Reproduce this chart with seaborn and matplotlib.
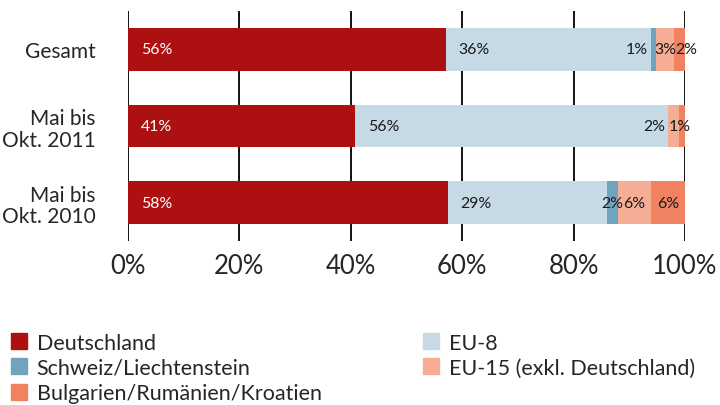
import numpy as np
import pandas as pd
import matplotlib
matplotlib.use('Agg')
import matplotlib.pyplot as plt
from matplotlib.lines import Line2D
import seaborn as sns

# data, shares in percent
categories = ['Gesamt', 'Mai bis\nOkt. 2011', 'Mai bis\nOkt. 2010']
series = ['Deutschland', 'EU-8', 'Schweiz/Liechtenstein', 'EU-15 (exkl. Deutschland)',
          'Bulgarien/Rumänien/Kroatien']
deutschland = [57.1, 40.8, 57.4]
eu8 = [36.8, 56.2, 28.6]
schweiz = [0.9, 0.0, 2.0]
eu15 = [3.2, 2.0, 5.9]
bulgarien = [2.0, 1.0, 6.1]
# printed labels as in the original
labels = [['56%', '36%', '1%', '3%', '2%'],
          ['41%', '56%', '', '2%', '1%'],
          ['58%', '29%', '2%', '6%', '6%']]

colors = ['#AD1010', '#C6DAE6', '#6FA3BE', '#F5AE95', '#F08262']
# nudges for small labels (row, series) -> shift in % units
nudge = {(0, 2): -3.0, (0, 4): 1.2, (1, 3): -3.5, (1, 4): -0.4}

sns.set_style('white')
plt.rcParams['font.family'] = ['Lato', 'DejaVu Sans']

df = pd.DataFrame({'cat': categories, 'Deutschland': deutschland, 'EU-8': eu8,
                   'Schweiz/Liechtenstein': schweiz, 'EU-15 (exkl. Deutschland)': eu15,
                   'Bulgarien/Rumänien/Kroatien': bulgarien})
vals = df[series].to_numpy()
cum = np.cumsum(vals, axis=1)

fig = plt.figure(figsize=(7.2, 4.06), dpi=100)
ax = fig.add_axes([128/720, 1-242/406, 557/720, 230/406])

# draw stacked bars from the longest cumulative one down
for i in range(len(series)-1, -1, -1):
    sns.barplot(x=cum[:, i], y=categories, orient='h', color=colors[i],
                width=0.56, ax=ax, saturation=1, linewidth=0)

for r in range(len(categories)):
    for i in range(len(series)):
        if labels[r][i] == '':
            continue
        left = cum[r, i] - vals[r, i]
        if vals[r, i] > 15:
            x = left + 2.3
            ha = 'left'
        else:
            x = left + vals[r, i]/2 + nudge.get((r, i), 0)
            ha = 'center'
        ax.text(x, r, labels[r][i], ha=ha, va='center', fontsize=11.4,
                color='white' if i == 0 else '#1a1a1a')

ax.set_xlim(0, 100)
ax.set_ylim(2.5, -0.5)
ax.set_xticks([0, 20, 40, 60, 80, 100])
ax.set_xticklabels(['0%', '20%', '40%', '60%', '80%', '100%'])
ax.xaxis.grid(True, color='black', linewidth=1.3)
ax.set_axisbelow(True)
for s in ax.spines.values():
    s.set_visible(False)
ax.tick_params(axis='x', length=0, pad=9, labelsize=18.5)
ax.tick_params(axis='y', length=0, pad=23.5, labelsize=15)
ax.set_xlabel('')
ax.set_ylabel('')
for t in ax.get_yticklabels():
    t.set_multialignment('right')
    t.set_linespacing(1.1)

handles = [Line2D([], [], marker='s', linestyle='', markersize=11, color=colors[i])
           for i in [0, 2, 4, 1, 3]]
names = [series[i] for i in [0, 2, 4, 1, 3]]
fig.legend(handles, names, ncol=2, loc='upper left', bbox_to_anchor=(0.0, 1-325/406),
           frameon=False, fontsize=15.5, handletextpad=0.3, labelspacing=0.25,
           columnspacing=4.6, handlelength=1.0, borderaxespad=0)

fig.savefig('out.png', dpi=100)
